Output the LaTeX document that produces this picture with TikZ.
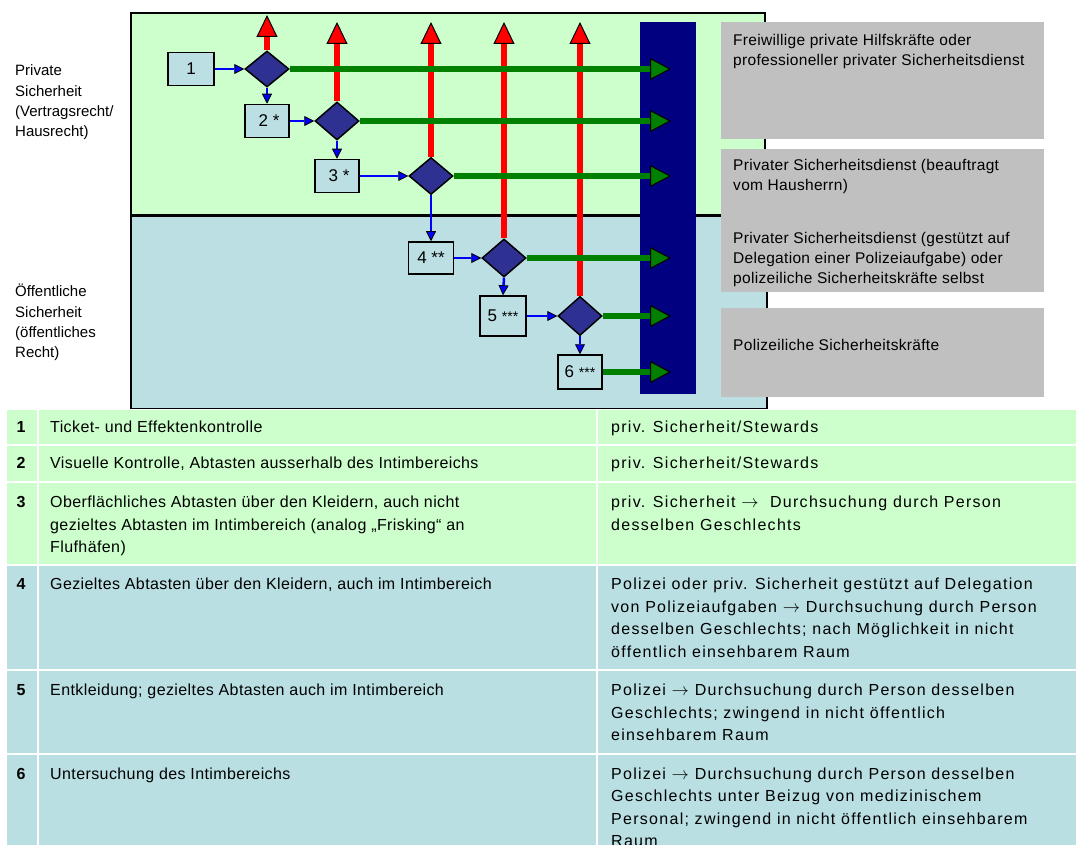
\documentclass[tikz,border=0pt]{standalone}
\usepackage{fontspec}
\setmainfont{Liberation Sans}
\newfontfamily\grayfont[LetterSpace=2]{Liberation Sans}
\newfontfamily\midfont[LetterSpace=2.5]{Liberation Sans}
\newfontfamily\widefont[LetterSpace=8]{Liberation Sans}
\newcommand\rarr{$\rightarrow$}
\usetikzlibrary{shapes.geometric,arrows.meta}
\definecolor{pgreen}{HTML}{CCFFCC}
\definecolor{pblue}{HTML}{BBDFE3}
\definecolor{navybar}{HTML}{000080}
\definecolor{dia}{HTML}{2E3192}
\definecolor{gbox}{HTML}{C0C0C0}
\definecolor{gline}{HTML}{008000}
\definecolor{tgreen}{HTML}{CCFFCC}
\definecolor{tblue}{HTML}{B9DFE3}
\begin{document}
\begin{tikzpicture}[x=1pt,y=-1pt,
  stepbox/.style={draw=black,line width=1.5pt,fill=pblue,rectangle,inner sep=0pt,
    minimum width=45pt,minimum height=33pt,font=\fontsize{17}{20}\selectfont},
  decision/.style={diamond,draw=black,line width=1.5pt,fill=dia,inner sep=0pt,
    minimum width=44pt,minimum height=37pt},
  redarrow/.style={draw=red,line width=6pt,
    -{Triangle[width=21pt,length=22pt,fill=red,color=black,line width=1pt]}},
  greenarrow/.style={draw=gline,line width=6pt,
    -{Triangle[width=22pt,length=21pt,fill=gline,color=black,line width=1pt]}},
  bluearrow/.style={draw=blue,line width=2.5pt,
    -{Triangle[width=10pt,length=10pt,fill=blue,color=black,line width=0.8pt]}},
  graybox/.style={fill=gbox,inner sep=0pt,anchor=north west,minimum width=323pt},
  graytext/.style={anchor=north west,inner sep=0pt,align=left,
    font=\grayfont\fontsize{15.5}{20}\selectfont},
  sidetext/.style={anchor=north west,inner sep=0pt,align=left,
    font=\fontsize{15}{20.3}\selectfont},
  numtext/.style={anchor=north,inner sep=0pt,font=\bfseries\fontsize{16}{22.5}\selectfont},
  desctext/.style={anchor=north west,inner sep=0pt,align=left,
    font=\midfont\fontsize{16}{22.5}\selectfont},
  whotext/.style={anchor=north west,inner sep=0pt,align=left,
    font=\widefont\fontsize{16}{22.5}\selectfont}
]
\useasboundingbox (0,0) rectangle (1076,845);
% panels
\draw[line width=2pt,fill=pgreen] (131,13) rectangle (765,216);
\draw[line width=2pt,fill=pblue] (131,216) rectangle (767,409);
\draw[line width=3pt] (131,216) -- (767,216);
% side labels
\node[sidetext] (lblpriv) at (15,61.5) {\strut Private\\Sicherheit\\(Vertragsrecht/\\Hausrecht)};
\node[sidetext] (lblpub) at (15,282.5) {\strut Öffentliche\\Sicherheit\\(öffentliches\\Recht)};
% navy bar
\node[fill=navybar,minimum width=56pt,minimum height=372pt,inner sep=0pt,anchor=north west] (bar) at (640,22) {};
% gray boxes
\node[graybox,minimum height=117pt] (gb1) at (721,22) {};
\node[graybox,minimum height=143pt] (gb2) at (721,149) {};
\node[graybox,minimum height=89pt] (gb3) at (721,308) {};
\node[graytext] (gt1) at (733,31.5) {\strut Freiwillige private Hilfskräfte oder\\professioneller privater Sicherheitsdienst};
\node[graytext] (gt2) at (733,156) {\strut Privater Sicherheitsdienst (beauftragt\\vom Hausherrn)};
\node[graytext] (gt3) at (733,229.3) {\strut Privater Sicherheitsdienst (gestützt auf\\Delegation einer Polizeiaufgabe) oder\\polizeiliche Sicherheitskräfte selbst};
\node[graytext] (gt4) at (733,336) {\strut Polizeiliche Sicherheitskräfte};
% steps and decisions
\node[stepbox,minimum width=46pt] (b1) at (191,69) {1};
\node[decision,minimum height=36pt] (d1) at (267,69) {};
\node[stepbox,minimum width=44pt] (b2) at (267,121) {\hspace{4pt}2 *};
\node[decision,minimum height=38pt] (d2) at (337,121) {};
\node[stepbox,minimum width=44pt] (b3) at (337,176) {\hspace{4pt}3 *};
\node[decision] (d3) at (431,176) {};
\node[stepbox,minimum height=32pt] (b4) at (431,258) {4 **};
\node[decision,minimum height=38pt] (d4) at (504,258) {};
\node[stepbox,minimum width=46pt,minimum height=40pt] (b5) at (503,316) {5 {\fontsize{14}{14}\selectfont ***}};
\node[decision,minimum height=39pt] (d5) at (580,316) {};
\node[stepbox,minimum width=44pt,minimum height=34pt] (b6) at (580,372) {6 {\fontsize{14}{14}\selectfont ***}};
% connector ends
\coordinate (rtop1) at (267,15);
\coordinate (rtop) at (0,22);
\coordinate (tipx) at (671,0);
% red arrows
\draw[redarrow] (d1.north) -- (rtop1);
\draw[redarrow] (d2.north) -- (d2.north |- rtop);
\draw[redarrow] (d3.north) -- (d3.north |- rtop);
\draw[redarrow] (d4.north) -- (d4.north |- rtop);
\draw[redarrow] (d5.north) -- (d5.north |- rtop);
% green arrows
\draw[greenarrow] (d1.east) -- (d1.east -| tipx);
\draw[greenarrow] (d2.east) -- (d2.east -| tipx);
\draw[greenarrow] (d3.east) -- (d3.east -| tipx);
\draw[greenarrow] (d4.east) -- (d4.east -| tipx);
\draw[greenarrow] (d5.east) -- (d5.east -| tipx);
\draw[greenarrow] (b6.east) -- (b6.east -| tipx);
% blue arrows
\draw[bluearrow] (b1.east) -- (d1.west);
\draw[bluearrow] (d1.south) -- (b2.north);
\draw[bluearrow] (b2.east) -- (d2.west);
\draw[bluearrow] (d2.south) -- (b3.north);
\draw[bluearrow] (b3.east) -- (d3.west);
\draw[bluearrow] (d3.south) -- (b4.north);
\draw[bluearrow] (b4.east) -- (d4.west);
\draw[bluearrow] (d4.south) -- (b5.north);
\draw[bluearrow] (b5.east) -- (d5.west);
\draw[bluearrow] (d5.south) -- (b6.north);
% table
\fill[white] (0,409) rectangle (1076,845);
\foreach \ya/\yb/\col in {410/444/tgreen,446/481/tgreen,483/564/tgreen,566/669/tblue,671/753/tblue,755/846/tblue}{
  \fill[\col] (7,\ya) rectangle (37,\yb);
  \fill[\col] (39,\ya) rectangle (596,\yb);
  \fill[\col] (598,\ya) rectangle (1076,\yb);
}
\node[numtext] (n1) at (21,416.5) {\strut 1};
\node[numtext] (n2) at (21,452.5) {\strut 2};
\node[numtext] (n3) at (21,492) {\strut 3};
\node[numtext] (n4) at (21,574) {\strut 4};
\node[numtext] (n5) at (21,680) {\strut 5};
\node[numtext] (n6) at (21,763.5) {\strut 6};
\node[desctext] (t1) at (50,416.5) {\strut Ticket- und Effektenkontrolle};
\node[desctext] (t2) at (50,452.5) {\strut Visuelle Kontrolle, Abtasten ausserhalb des Intimbereichs};
\node[desctext] (t3) at (50,492) {\strut Oberflächliches Abtasten über den Kleidern, auch nicht\\gezieltes Abtasten im Intimbereich (analog „Frisking“ an\\Flufhäfen)};
\node[desctext] (t4) at (50,574) {\strut Gezieltes Abtasten über den Kleidern, auch im Intimbereich};
\node[desctext] (t5) at (50,680) {\strut Entkleidung; gezieltes Abtasten auch im Intimbereich};
\node[desctext] (t6) at (50,763.5) {\strut Untersuchung des Intimbereichs};
\node[whotext] (w1) at (611,416.5) {\strut priv. Sicherheit/Stewards};
\node[whotext] (w2) at (611,452.5) {\strut priv. Sicherheit/Stewards};
\node[whotext] (w3) at (611,492) {\strut priv. Sicherheit \rarr{}\ \ Durchsuchung durch Person\\desselben Geschlechts};
\node[whotext] (w4) at (611,574) {\strut Polizei oder priv. Sicherheit gestützt auf Delegation\\von Polizeiaufgaben \rarr{} Durchsuchung durch Person\\desselben Geschlechts; nach Möglichkeit in nicht\\öffentlich einsehbarem Raum};
\node[whotext] (w5) at (611,680) {\strut Polizei \rarr{} Durchsuchung durch Person desselben\\Geschlechts; zwingend in nicht öffentlich\\einsehbarem Raum};
\node[whotext] (w6) at (611,763.5) {\strut Polizei \rarr{} Durchsuchung durch Person desselben\\Geschlechts unter Beizug von medizinischem\\Personal; zwingend in nicht öffentlich einsehbarem\\Raum};
\end{tikzpicture}
\end{document}
